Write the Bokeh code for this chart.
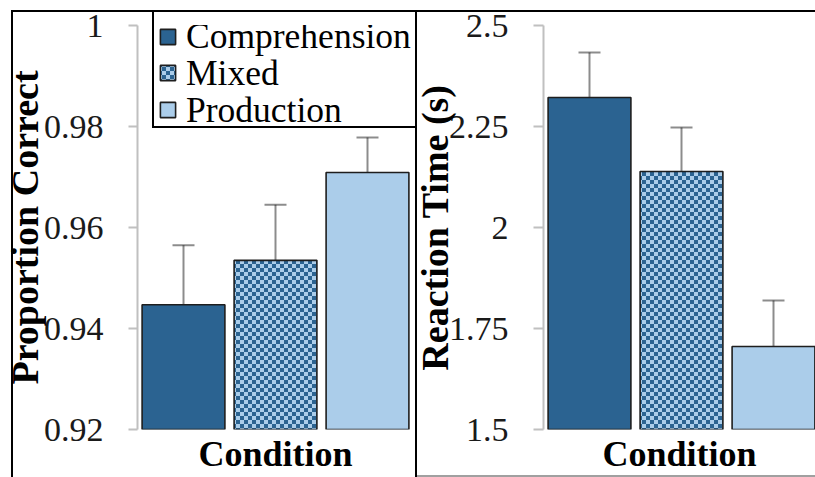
import zlib, struct, base64
from bokeh.plotting import figure
from bokeh.layouts import row
from bokeh.models import (ColumnDataSource, Range1d, FixedTicker, CustomJSTickFormatter,
                          Whisker, TeeHead, ImageURLTexture, Legend, LegendItem)
from bokeh.core.properties import value
from bokeh.embed import file_html
from bokeh.resources import INLINE

# ---- data ----
conditions = ["Comprehension", "Mixed", "Production"]
acc_mean = [0.9447, 0.9535, 0.9709]
acc_lower = [0.9327, 0.9425, 0.9640]
acc_upper = [0.9565, 0.9645, 0.9778]
rt_mean = [2.3218, 2.1386, 1.7054]
rt_lower = [2.2130, 2.0300, 1.5965]
rt_upper = [2.4330, 2.2475, 1.8190]
acc_ticks = [0.92, 0.94, 0.96, 0.98, 1.0]
acc_tick_labels = ["0.92", "0.94", "0.96", "0.98", "1"]
rt_ticks = [1.5, 1.75, 2.0, 2.25, 2.5]
rt_tick_labels = ["1.5", "1.75", "2", "2.25", "2.5"]
x_title = "Condition"

# ---- styles ----
DARK = (0x2b, 0x63, 0x91)
LIGHT = (0xab, 0xcd, 0xea)
SERIF = "Liberation Serif"


def hexc(c):
    return "#%02x%02x%02x" % c


def checker_png(c1, c2, cell):
    n = cell * 2
    raw = b""
    for y in range(n):
        raw += b"\x00"
        for x in range(n):
            raw += bytes(c1 if ((x // cell + y // cell) % 2 == 0) else c2)

    def chunk(t, d):
        return struct.pack(">I", len(d)) + t + d + struct.pack(">I", zlib.crc32(t + d) & 0xffffffff)

    png = (b"\x89PNG\r\n\x1a\n" + chunk(b"IHDR", struct.pack(">IIBBBBB", n, n, 8, 2, 0, 0, 0))
           + chunk(b"IDAT", zlib.compress(raw)) + chunk(b"IEND", b""))
    return "data:image/png;base64," + base64.b64encode(png).decode()


checker = ImageURLTexture(url=checker_png(DARK, LIGHT, 4))
bar_styles = [
    dict(fill_color=hexc(DARK)),
    dict(fill_color=hexc(LIGHT), hatch_pattern=value("checker"), hatch_extra={"checker": checker}),
    dict(fill_color=hexc(LIGHT)),
]
legend_row_centers = [36, 72.5, 109.5]   # screen px from top of page (layout only)


def make_panel(width, means, lows, highs, ticks, tick_labels, ylabel, yrange, xend,
               border_left, border_right, tick_out, label_standoff, legend, margin=0):
    p = figure(width=width, height=477, x_range=Range1d(0.5, xend), y_range=Range1d(*yrange),
               min_border_left=border_left, min_border_right=border_right,
               min_border_top=25, min_border_bottom=48, margin=margin,
               output_backend="svg", toolbar_location=None)
    p.border_fill_color = None
    p.background_fill_color = None
    p.outline_line_color = None
    p.grid.visible = False

    xs = [i + 1 for i in range(len(conditions))]
    bars = []
    for i, name in enumerate(conditions):
        src = ColumnDataSource(dict(x=[xs[i]], top=[means[i]]))
        r = p.vbar(x="x", top="top", bottom=yrange[0], width=0.9, source=src,
                   line_color="#1e1e1e", line_width=1.6, **bar_styles[i])
        bars.append(r)

    esrc = ColumnDataSource(dict(x=xs, lo=lows, hi=highs))
    wcol, walpha = "#000000", 0.45
    p.add_layout(Whisker(base="x", lower="lo", upper="hi", source=esrc,
                         line_color=wcol, line_alpha=walpha, line_width=2,
                         upper_head=TeeHead(size=22, line_color=wcol, line_alpha=walpha, line_width=2),
                         lower_head=TeeHead(size=22, line_color=wcol, line_alpha=walpha, line_width=2)))

    ya = p.yaxis[0]
    ya.ticker = FixedTicker(ticks=ticks)
    ya.formatter = CustomJSTickFormatter(args=dict(tvals=ticks, tlabels=tick_labels), code="""
        let best = -1, d = 1e9;
        for (let i = 0; i < tvals.length; i++) {
          const e = Math.abs(tvals[i] - tick);
          if (e < d) { d = e; best = i; }
        }
        return tlabels[best];
    """)
    ya.axis_line_color = "#c0c0c0"
    ya.axis_line_width = 2
    ya.major_tick_line_color = "#c0c0c0"
    ya.major_tick_line_width = 2
    ya.major_tick_out = tick_out
    ya.major_tick_in = 0
    ya.minor_tick_line_color = None
    ya.major_label_standoff = 25
    ya.major_label_text_font = SERIF
    ya.major_label_text_font_size = "34px"
    ya.major_label_text_color = "#1a1a1a"
    ya.axis_label = ylabel
    ya.axis_label_text_font = SERIF
    ya.axis_label_text_font_style = "bold"
    ya.axis_label_text_font_size = "38px"
    ya.axis_label_text_color = "#000000"
    ya.axis_label_standoff = label_standoff

    xa = p.xaxis[0]
    xa.ticker = FixedTicker(ticks=[])
    xa.axis_line_color = None
    xa.major_tick_line_color = None
    xa.minor_tick_line_color = None
    xa.major_tick_out = 0
    xa.major_tick_in = 0
    xa.major_label_text_font_size = "0px"
    xa.major_label_standoff = 0
    xa.axis_label = x_title
    xa.axis_label_text_font = SERIF
    xa.axis_label_text_font_style = "bold"
    xa.axis_label_text_font_size = "36px"
    xa.axis_label_text_color = "#000000"
    xa.axis_label_standoff = 4

    if legend:
        row_h = 42
        for i, name in enumerate(conditions):
            lg = Legend(items=[LegendItem(label=name, renderers=[bars[i]])],
                        location=(21, 429 - legend_row_centers[i] - row_h / 2))
            lg.label_text_font = SERIF
            lg.label_text_font_size = "35.5px"
            lg.label_text_color = "#000000"
            lg.glyph_width = 19
            lg.glyph_height = 19
            lg.label_height = 20
            lg.label_standoff = 9
            lg.padding = 0
            lg.spacing = 0
            lg.margin = 0
            lg.border_line_color = None
            lg.background_fill_alpha = 0
            p.add_layout(lg, "center")
    return p


p1 = make_panel(416, acc_mean, acc_lower, acc_upper, acc_ticks, acc_tick_labels,
                "Proportion Correct", (0.92, 1.0), 3.5, 137, 3, 9, -5, True)
p2 = make_panel(409, rt_mean, rt_lower, rt_upper, rt_ticks, rt_tick_labels,
                "Reaction Time (s)", (1.5, 2.5), 0.5 + 272 / 92, 137, 0, 10, -10, False,
                margin=(0, 0, 0, -10))

frame_lines = ", ".join([
    "linear-gradient(#000,#000) 11px 10px / 2px 467px no-repeat",
    "linear-gradient(#000,#000) 11px 10px / 804px 2px no-repeat",
    "linear-gradient(#000,#000) 415px 10px / 2px 467px no-repeat",
    "linear-gradient(#000,#000) 152px 10px / 2px 118px no-repeat",
    "linear-gradient(#000,#000) 152px 126px / 264px 2px no-repeat",
    "linear-gradient(#a0a0a0,#a0a0a0) 417px 475px / 398px 2px no-repeat",
])
layout = row(p1, p2, spacing=0, styles={"background": frame_lines + ", white"})

open("out.html", "w").write(file_html(layout, INLINE))
